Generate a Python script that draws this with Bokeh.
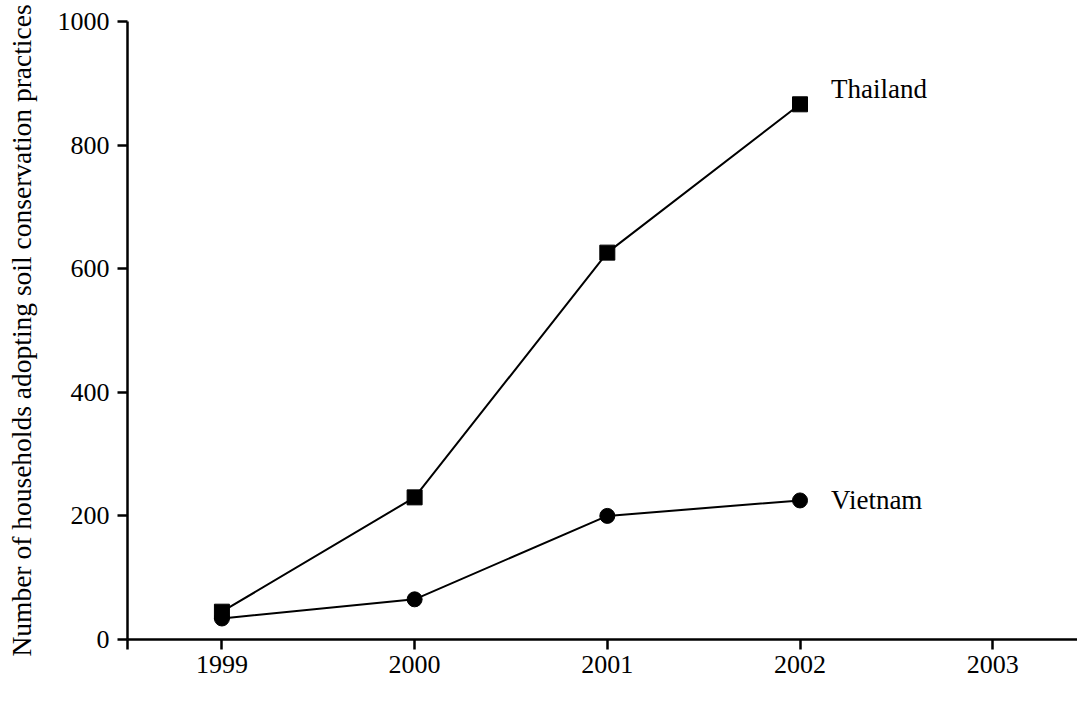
from bokeh.plotting import figure
from bokeh.models import Range1d, FixedTicker
from bokeh.core.properties import value
from bokeh.embed import file_html
from bokeh.resources import INLINE

years = [1999, 2000, 2001, 2002]
thailand = [45, 230, 626, 866]
vietnam = [34, 65, 200, 225]
tick_years = [1999, 2000, 2001, 2002, 2003]
y_ticks = [0, 200, 400, 600, 800, 1000]
series_names = ["Thailand", "Vietnam"]
y_label = "Number of households adopting soil conservation practices"

FONT = "Liberation Serif"

x_start, x_end = 1998.51, 2003.44

p = figure(width=1077, height=696, output_backend="svg", toolbar_location=None,
           x_range=Range1d(x_start, x_end), y_range=Range1d(0, 1000),
           min_border_left=127, min_border_right=0, min_border_top=21, min_border_bottom=57)
p.outline_line_color = None
p.grid.visible = False
p.background_fill_color = "white"
p.border_fill_color = "white"

for ax in (p.xaxis[0], p.yaxis[0]):
    ax.axis_line_width = 2.5
    ax.major_tick_line_width = 2.5
    ax.axis_line_color = "black"
    ax.major_tick_line_color = "black"
    ax.minor_tick_line_color = None
    ax.major_tick_out = 10
    ax.major_tick_in = 0
    ax.major_label_text_font = FONT
    ax.major_label_text_font_size = "26px"
    ax.major_label_text_color = "black"

p.xaxis[0].ticker = FixedTicker(ticks=[x_start] + tick_years)
overrides = {x_start: ""}
for yv in tick_years:
    overrides[yv] = str(yv)
p.xaxis[0].major_label_overrides = overrides
p.xaxis[0].major_label_standoff = 6

p.yaxis[0].ticker = FixedTicker(ticks=y_ticks)
p.yaxis[0].major_label_standoff = 8
p.yaxis[0].axis_label = y_label
p.yaxis[0].axis_label_text_font = FONT
p.yaxis[0].axis_label_text_font_size = "27.5px"
p.yaxis[0].axis_label_text_font_style = "normal"
p.yaxis[0].axis_label_text_color = "black"
p.yaxis[0].axis_label_standoff = 18

p.line(years, thailand, line_color="black", line_width=2)
p.scatter(years, thailand, marker="square", size=15, fill_color="black", line_color="black")
p.line(years, vietnam, line_color="black", line_width=2)
p.scatter(years, vietnam, marker="circle", size=15, fill_color="black", line_color="black")

p.text(x=[years[-1]], y=[thailand[-1]], text=[series_names[0]], x_offset=31, y_offset=-15,
       text_font=value(FONT), text_font_size="27px", text_baseline="middle", text_color="black")
p.text(x=[years[-1]], y=[vietnam[-1]], text=[series_names[1]], x_offset=31, y_offset=0,
       text_font=value(FONT), text_font_size="27px", text_baseline="middle", text_color="black")

open("out.html", "w").write(file_html(p, INLINE))
